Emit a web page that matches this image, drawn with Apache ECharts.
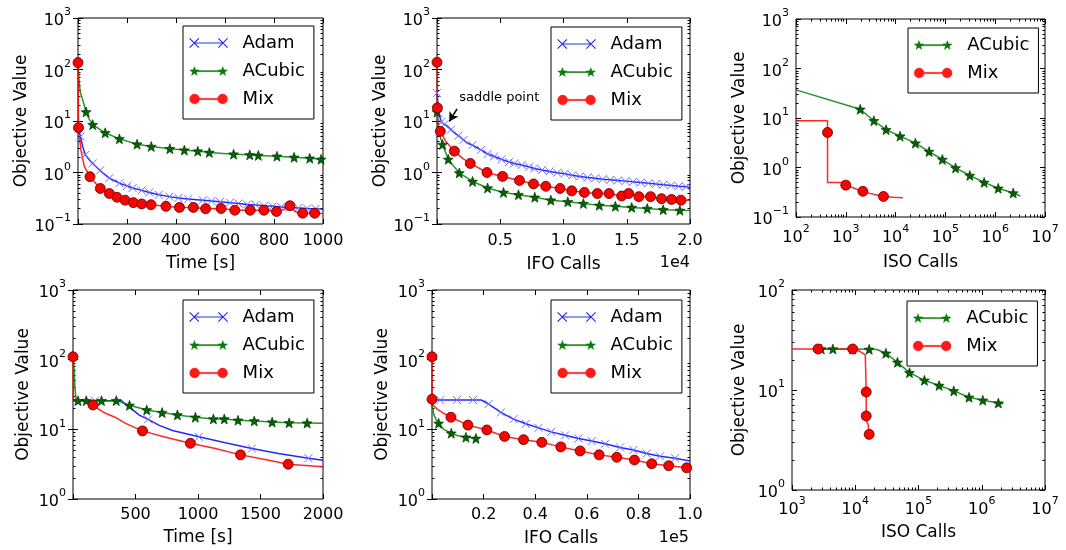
<!DOCTYPE html>
<html><head><meta charset="utf-8">
<script src="https://cdn.jsdelivr.net/npm/echarts@6/dist/echarts.min.js"></script>
<style>html,body{margin:0;padding:0;background:#fff}#c{width:1066px;height:550px}</style>
</head><body><div id="c"></div>
<script>
// ---------- data: [x, y, marker(1)/no marker(0)] ----------
// Panel 1: time, problem A
const p1Adam = [[0,7.5,0],[5,7.2,0],[10,5,1],[19,3.2,0],[30,2.2,1],[46,1.76,0],[60,1.5,1],[73,1.31,0],[90,1.1,1],[101,0.98,0],[128,0.78,1],[169,0.62,1],[200,0.55,1],[223,0.5,1],[260,0.45,1],[291,0.41,1],[330,0.37,1],[373,0.34,1],[410,0.32,1],[450,0.305,1],[509,0.29,1],[545,0.28,1],[580,0.27,1],[620,0.26,1],[655,0.25,1],[690,0.24,1],[725,0.235,1],[760,0.225,1],[795,0.22,1],[830,0.215,1],[865,0.21,1],[900,0.205,1],[935,0.2,1],[970,0.197,1],[1000,0.195,0]];
const p1ACubic = [[0,130,0],[2,90,0],[5,55,0],[10,35,0],[19,26,0],[33,15,1],[45,11,0],[60,8.5,1],[111,5.9,1],[169,4.5,1],[241,3.55,1],[299,3.2,1],[375,2.9,1],[434,2.72,1],[489,2.6,1],[536,2.45,1],[635,2.27,1],[701,2.2,1],[736,2.15,1],[812,2.07,1],[882,1.97,1],[946,1.89,1],[992,1.8,1],[1000,1.78,0]];
const p1Mix = [[0,136,1],[2,7.4,1],[12,2.7,0],[26,1.3,0],[49,0.83,1],[91,0.49,1],[128,0.39,1],[159,0.33,1],[192,0.29,1],[226,0.26,1],[260,0.245,1],[298,0.237,1],[359,0.22,1],[414,0.21,1],[471,0.21,1],[521,0.198,1],[584,0.2,1],[640,0.185,1],[703,0.185,1],[759,0.185,1],[810,0.175,1],[840,0.19,0],[865,0.226,1],[890,0.17,0],[917,0.162,1],[966,0.162,1],[1000,0.16,0]];
// Panel 2: IFO calls, problem A
const p2Adam = [[0,35,1],[150,14,1],[350,9.5,1],[580,8.6,1],[840,7.9,0],[1100,6.8,1],[1370,5.9,0],[1700,5.2,1],[2100,4.3,1],[2420,3.7,0],[2800,3.4,1],[3470,2.75,1],[4000,2.3,1],[4520,2.05,1],[5100,1.8,1],[5700,1.6,1],[6100,1.5,1],[6700,1.4,1],[7300,1.28,1],[7680,1.2,1],[8300,1.12,1],[8900,1.05,1],[9500,0.99,1],[10100,0.95,1],[10700,0.88,1],[11300,0.84,1],[11900,0.8,1],[12500,0.77,1],[13100,0.74,1],[13700,0.72,1],[14300,0.7,1],[14900,0.68,1],[15500,0.66,1],[16100,0.64,1],[16700,0.62,1],[17300,0.6,1],[17900,0.58,1],[18500,0.56,1],[19100,0.54,1],[19700,0.53,1],[20000,0.52,0]];
const p2ACubic = [[0,15,1],[100,8,0],[200,5.5,0],[440,3.5,1],[890,1.8,1],[1760,0.98,1],[2810,0.67,1],[4000,0.5,1],[5260,0.41,1],[6440,0.37,1],[7730,0.33,1],[9000,0.29,1],[10340,0.27,1],[11570,0.25,1],[12830,0.23,1],[14100,0.22,1],[15390,0.21,1],[16620,0.2,1],[17880,0.19,1],[19200,0.184,1],[20000,0.182,0]];
const p2Mix = [[0,138,1],[30,18,1],[80,9,0],[260,6.3,1],[700,4,0],[1370,2.6,1],[2000,1.9,0],[2630,1.5,1],[3950,1.0,1],[5180,0.84,1],[6520,0.7,1],[7630,0.6,1],[8600,0.54,1],[9730,0.49,1],[10650,0.44,1],[11650,0.41,1],[12680,0.39,1],[13600,0.39,1],[14600,0.35,1],[15150,0.39,1],[15960,0.34,1],[16880,0.34,1],[17750,0.31,1],[18540,0.3,1],[19280,0.29,1],[20000,0.29,0]];
// Panel 3: ISO calls, problem A
const p3ACubic = [[100,37,0],[1950,15,1],[3660,8.8,1],[6450,5.8,1],[12300,4.3,1],[25000,3.1,1],[47000,2.1,1],[87000,1.45,1],[160000,0.98,1],[309000,0.69,1],[600000,0.5,1],[1150000,0.38,1],[2300000,0.305,1],[3200000,0.265,0]];
const p3Mix = [[100,8.8,0],[430,8.8,0],[430,5.1,1],[430,0.5,0],[990,0.5,0],[1000,0.44,1],[1300,0.4,0],[1300,0.37,0],[2200,0.33,1],[3000,0.3,0],[5700,0.26,1],[9000,0.25,0],[14000,0.245,0]];
// Panel 4: time, problem B
const p4Adam = [[0,25.8,0],[175,25.8,1],[390,25.8,0],[424,22.4,0],[464,20,0],[530,16,0],[601,13.9,1],[690,11.4,0],[796,9.6,0],[1007,7.8,1],[1218,6.4,0],[1431,5.3,1],[1644,4.5,0],[1883,3.85,1],[2000,3.6,0]];
const p4ACubic = [[0,105,0],[8,80,0],[15,40,0],[25,26,0],[40,25.8,1],[106,25.8,1],[228,25.8,1],[346,25.8,1],[452,22.1,1],[590,19,1],[713,17.4,1],[835,16.1,1],[979,14.9,1],[1123,14.1,1],[1210,14.1,1],[1320,13.5,1],[1450,13.2,1],[1593,12.7,1],[1729,12.4,1],[1873,12.3,1],[2000,12.2,0]];
const p4Mix = [[0,110,1],[3,25.8,0],[120,25.8,0],[160,22.4,1],[207,19.4,0],[260,17,0],[340,14.8,0],[420,12.2,0],[556,9.5,1],[740,7.7,0],[939,6.3,1],[1138,5.3,0],[1340,4.3,1],[1537,3.7,0],[1721,3.16,1],[2000,2.9,0]];
// Panel 5: IFO calls, problem B
const p5Adam = [[0,26.4,0],[3213,26.4,1],[9666,26.4,1],[15860,26.4,1],[19000,26.4,0],[21920,23.1,1],[26700,17.5,1],[31600,14,1],[36370,12,1],[41280,10.5,1],[46180,9.2,1],[51600,8.2,1],[56760,7.4,1],[61920,6.8,1],[67080,6.2,1],[72890,5.5,1],[78050,5.05,1],[83210,4.5,1],[88380,4.1,1],[94190,3.85,1],[100000,3.5,0]];
const p5ACubic = [[0,22,0],[800,16,0],[1500,14,0],[2570,12.2,1],[4500,10,0],[7470,8.8,1],[10000,8.1,0],[13150,7.7,1],[15000,7.6,0],[17020,7.4,1]];
const p5Mix = [[0,110,1],[0,27,1],[300,22.5,0],[2000,19.5,0],[4500,17,0],[7340,14.9,1],[13920,11.5,1],[21270,9.8,1],[28120,7.9,1],[35480,7.1,1],[42570,6.5,1],[49930,5.6,1],[57410,4.9,1],[64770,4.3,1],[71610,3.97,1],[78450,3.63,1],[85160,3.2,1],[91740,3.0,1],[98710,2.8,1],[100000,2.78,0]];
// Panel 6: ISO calls, problem B
const p6ACubic = [[2900,25.7,1],[4430,25.7,1],[9100,25.7,1],[16600,25.5,1],[22000,25.4,0],[30500,23.3,1],[46500,18.9,1],[72000,14.9,1],[124000,12.5,1],[212000,11.1,1],[361000,9.8,1],[630000,8.45,1],[1040000,7.9,1],[1830000,7.4,1],[2200000,7.3,0]];
const p6Mix = [[1000,25.7,0],[2580,25.7,1],[9100,25.7,1],[11300,24.7,0],[14400,22.4,0],[14900,22,0],[14900,9.55,1],[14900,5.5,1],[15200,4.8,0],[16000,4.5,0],[16600,3.6,1]];

// tick labels
const xTicks1 = [200,400,600,800,1000];
const xTicks2 = [5000,10000,15000,20000];
const xTicks3 = [1e2,1e3,1e4,1e5,1e6,1e7];
const xTicks4 = [500,1000,1500,2000];
const xTicks5 = [20000,40000,60000,80000,100000];
const xTicks6 = [1e3,1e4,1e5,1e6,1e7];
const yTicksA = [1e-1,1,1e1,1e2,1e3];
const yTicksB = [1,1e1,1e2,1e3];
const yTicksC = [1,1e1,1e2];
const axisNames = {time:'Time [s]', ifo:'IFO Calls', iso:'ISO Calls', obj:'Objective Value'};
const annotationText = 'saddle point';
const annotationArrow = [[1580,17.1],[970,9.8]];
const annotationAt = [4920,29];

// ---------- styles ----------
const FONT = 'DejaVu Sans';
function starSub(cx, cy, R){let s='';for(let i=0;i<10;i++){const r=i%2?R*0.42:R;const a=-Math.PI/2+i*Math.PI/5;s+=(i?'L':'M')+(cx+r*Math.cos(a)).toFixed(3)+','+(cy+r*Math.sin(a)).toFixed(3);}return s+'Z';}
const starPath = 'path://' + starSub(0,0,1);
const xPath = 'path://M0,0L10,10M10,0L0,10';
// legend icons: line with a marker at each end (box 38 x 10)
const legIcon = {
  Adam: 'path://M0.5,0.5L9.5,9.5M9.5,0.5L0.5,9.5M5,5L33,5M28.5,0.5L37.5,9.5M37.5,0.5L28.5,9.5',
  ACubic: 'path://M8,4.4L30,4.4L30,5.6L8,5.6Z' + starSub(5,5.3,5) + starSub(33,5.3,5),
  Mix: 'path://M9.8,4.3L28.2,4.3L28.2,5.7L9.8,5.7Z M0,5A5,5 0 1,1 10,5A5,5 0 1,1 0,5Z M28,5A5,5 0 1,1 38,5A5,5 0 1,1 28,5Z'
};
const legItemStyle = {
  Adam: {color:'rgba(0,0,0,0)', borderColor:'#2a2aff', borderWidth:1.2},
  ACubic: {color:'#0a7a0a', borderColor:'#0a7a0a', borderWidth:0.3},
  Mix: {color:'#ff1a1a', borderColor:'#ff1a1a', borderWidth:0.3}
};
const ST = {
  Adam:{line:'#0000ff', symbol:xPath, size:8, item:{color:'rgba(0,0,0,0)', borderColor:'#6f6fff', borderWidth:1}},
  ACubic:{line:'#008000', symbol:starPath, size:10, item:{color:'#006400', borderColor:'#002800', borderWidth:0.6}},
  Mix:{line:'#ff0000', symbol:'circle', size:10, item:{color:'#ff0000', borderColor:'#5a0000', borderWidth:0.8}}
};

const grids = [
  {left:78, top:18, width:245, height:206},
  {left:437, top:18, width:253, height:206},
  {left:796, top:19, width:249, height:198},
  {left:73, top:290, width:250, height:209},
  {left:432, top:290, width:258, height:209},
  {left:792, top:290, width:253, height:200}
];
const xCfg = [
  {type:'value', min:0, max:1000, labels:xTicks1, ticks:[0].concat(xTicks1), name:axisNames.time, gap:31, margin:9, fmt:v=>String(v)},
  {type:'value', min:0, max:20000, labels:xTicks2, ticks:[0].concat(xTicks2), name:axisNames.ifo, gap:32, margin:9, fmt:v=>(v/1e4).toFixed(1)},
  {type:'log', min:1e2, max:1e7, labels:xTicks3, ticks:xTicks3, name:axisNames.iso, gap:37, margin:7},
  {type:'value', min:0, max:2000, labels:xTicks4, ticks:[0].concat(xTicks4), name:axisNames.time, gap:30, margin:8, fmt:v=>String(v)},
  {type:'value', min:0, max:100000, labels:xTicks5, ticks:[0].concat(xTicks5), name:axisNames.ifo, gap:31, margin:8, fmt:v=>(v/1e5).toFixed(1)},
  {type:'log', min:1e3, max:1e7, labels:xTicks6, ticks:xTicks6, name:axisNames.iso, gap:34, margin:6}
];
const yCfg = [
  {min:0.1, max:1000, ticks:yTicksA, gap:46},
  {min:0.1, max:1000, ticks:yTicksA, gap:46},
  {min:0.1, max:1000, ticks:yTicksA, gap:48},
  {min:1, max:1000, ticks:yTicksB, gap:41},
  {min:1, max:1000, ticks:yTicksB, gap:41},
  {min:1, max:100, ticks:yTicksC, gap:44}
];
const panelSeries = [
  [['Adam',p1Adam],['ACubic',p1ACubic],['Mix',p1Mix]],
  [['Adam',p2Adam],['ACubic',p2ACubic],['Mix',p2Mix]],
  [['ACubic',p3ACubic],['Mix',p3Mix]],
  [['Adam',p4Adam],['ACubic',p4ACubic],['Mix',p4Mix]],
  [['Adam',p5Adam],['ACubic',p5ACubic],['Mix',p5Mix]],
  [['ACubic',p6ACubic],['Mix',p6Mix]]
];
const legendPos = [
  {left:183, top:26}, {left:551, top:27}, {left:908, top:28},
  {left:183, top:300}, {left:551, top:300}, {left:907, top:301}
];

function minorLog(lo, hi){
  const out=[];
  for(let e=Math.floor(Math.log10(lo)); e<=Math.ceil(Math.log10(hi)); e++){
    for(let m=2;m<=9;m++){const v=Number((m*Math.pow(10,e)).toPrecision(6)); if(v>lo && v<hi) out.push(v);}
  }
  return out;
}
function supFmt(v){
  const e=Math.round(Math.log10(v));
  return '{b|10}{s|'+(e<0?'\u2212'+(-e):String(e))+'}';
}
const richSup = {
  b:{fontSize:16, fontFamily:FONT, color:'#000', verticalAlign:'bottom', lineHeight:22},
  s:{fontSize:11, fontFamily:FONT, color:'#000', verticalAlign:'top', lineHeight:11}
};

const xAxes=[], yAxes=[], series=[], legends=[];
grids.forEach((g,i)=>{
  const xc=xCfg[i], yc=yCfg[i];
  const xi = xAxes.length, yi = yAxes.length;
  xAxes.push({
    gridIndex:i, type:xc.type, logBase:10, min:xc.min, max:xc.max, position:'bottom',
    name:xc.name, nameLocation:'middle', nameGap:xc.gap,
    nameTextStyle:{fontSize:17, fontFamily:FONT, color:'#000'},
    axisLine:{show:false}, splitLine:{show:false},
    axisTick:{show:true, inside:true, length:5, customValues:xc.ticks, lineStyle:{color:'#000'}},
    axisLabel:{show:true, customValues:xc.labels, margin:xc.margin, color:'#000', fontSize:16, fontFamily:FONT,
      formatter: xc.type==='log'? supFmt : xc.fmt, rich: richSup}
  });
  xAxes.push({
    gridIndex:i, type:xc.type, logBase:10, min:xc.min, max:xc.max, position:'top',
    axisLine:{show:false}, splitLine:{show:false}, axisLabel:{show:false},
    axisTick:{show:true, inside:true, length:5, customValues:xc.ticks, lineStyle:{color:'#000'}}
  });
  if(xc.type==='log'){
    ['bottom','top'].forEach(p=>xAxes.push({
      gridIndex:i, type:'log', logBase:10, min:xc.min, max:xc.max, position:p,
      axisLine:{show:false}, splitLine:{show:false}, axisLabel:{show:false},
      axisTick:{show:true, inside:true, length:2.5, customValues:minorLog(xc.min,xc.max), lineStyle:{color:'#000'}}
    }));
  }
  yAxes.push({
    gridIndex:i, type:'log', logBase:10, min:yc.min, max:yc.max, position:'left',
    name:axisNames.obj, nameLocation:'middle', nameGap:yc.gap,
    nameTextStyle:{fontSize:17, fontFamily:FONT, color:'#000'},
    axisLine:{show:false}, splitLine:{show:false},
    axisTick:{show:true, inside:true, length:5, customValues:yc.ticks, lineStyle:{color:'#000'}},
    axisLabel:{show:true, customValues:yc.ticks, margin:7, color:'#000', formatter:supFmt, rich:richSup}
  });
  yAxes.push({
    gridIndex:i, type:'log', logBase:10, min:yc.min, max:yc.max, position:'right',
    axisLine:{show:false}, splitLine:{show:false}, axisLabel:{show:false},
    axisTick:{show:true, inside:true, length:5, customValues:yc.ticks, lineStyle:{color:'#000'}}
  });
  ['left','right'].forEach(p=>yAxes.push({
    gridIndex:i, type:'log', logBase:10, min:yc.min, max:yc.max, position:p,
    axisLine:{show:false}, splitLine:{show:false}, axisLabel:{show:false},
    axisTick:{show:true, inside:true, length:2.5, customValues:minorLog(yc.min,yc.max), lineStyle:{color:'#000'}}
  }));
  panelSeries[i].forEach(([name,arr])=>{
    const st=ST[name];
    const s={
      type:'line', name, xAxisIndex:xi, yAxisIndex:yi,
      symbol:st.symbol, symbolSize:st.size, showSymbol:true, showAllSymbol:true,
      lineStyle:{color:st.line, width:1.5, opacity:0.85},
      itemStyle:st.item, emphasis:{disabled:true}, silent:true, clip:true,
      data:arr.map(d=>({value:[d[0],d[1]], symbol:d[2]?st.symbol:'none'}))
    };
    if(i===1 && name==='Adam'){
      s.markLine={silent:true, symbol:['none','arrow'], symbolSize:[8,9],
        lineStyle:{color:'#000', width:1.5, type:'solid'}, label:{show:false},
        data:[[{coord:annotationArrow[0]},{coord:annotationArrow[1]}]]};
      s.markPoint={silent:true, data:[{coord:annotationAt, symbol:'rect', symbolSize:[1,1],
        itemStyle:{color:'rgba(0,0,0,0)'},
        label:{show:true, position:'inside', formatter:annotationText, color:'#000', fontSize:13, fontFamily:FONT}}]};
    }
    series.push(s);
  });
  legends.push({
    left:legendPos[i].left, top:legendPos[i].top, orient:'vertical',
    data:panelSeries[i].map(p=>({name:p[0], icon:legIcon[p[0]], itemStyle:legItemStyle[p[0]]})),
    selectedMode:false,
    padding:[7,9,10,6], itemGap:8, itemWidth:38, itemHeight:10,
    borderColor:'#000', borderWidth:1, borderRadius:0, backgroundColor:'#fff',
    textStyle:{fontSize:18, fontFamily:FONT, color:'#000', lineHeight:20, padding:[0,0,0,10]}
  });
});

const chart = echarts.init(document.getElementById('c'), null, {renderer:'canvas'});
chart.setOption({
  animation:false,
  backgroundColor:'#fff',
  textStyle:{fontFamily:FONT},
  grid:grids.map(g=>Object.assign({show:true, borderColor:'#000', borderWidth:1, backgroundColor:'#fff', containLabel:false, outerBoundsMode:'none'},g)),
  xAxis:xAxes, yAxis:yAxes, series, legend:legends,
  graphic:[
    {type:'text', right:376, top:255, style:{text:'1e4', fontSize:16, fontFamily:FONT, fill:'#000'}},
    {type:'text', right:377, top:530, style:{text:'1e5', fontSize:16, fontFamily:FONT, fill:'#000'}}
  ]
});
</script></body></html>
